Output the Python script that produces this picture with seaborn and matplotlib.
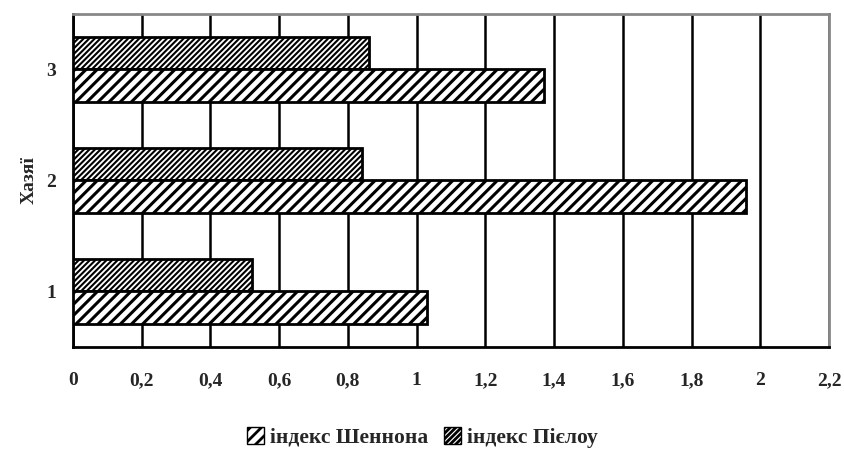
import pandas as pd
import seaborn as sns
import matplotlib.pyplot as plt
from matplotlib.patches import Patch

# Values
hosts = ['3', '2', '1']
shannon = [1.37, 1.96, 1.03]
pielou = [0.86, 0.84, 0.52]
x_ticks = [0, 0.2, 0.4, 0.6, 0.8, 1.0, 1.2, 1.4, 1.6, 1.8, 2.0, 2.2]
x_labels = ['0', '0,2', '0,4', '0,6', '0,8', '1', '1,2', '1,4', '1,6', '1,8', '2', '2,2']
name_sh = 'індекс Шеннона'
name_pi = 'індекс Пієлоу'

df = pd.DataFrame({
    'Хазяї': hosts * 2,
    'value': shannon + pielou,
    'index': [name_sh] * 3 + [name_pi] * 3,
})

sns.set_style('white')
plt.rcParams['font.family'] = ['Liberation Serif', 'DejaVu Serif']
plt.rcParams['font.weight'] = 'bold'
plt.rcParams['hatch.linewidth'] = 2.0

fig = plt.figure(figsize=(8.45, 4.51), dpi=100)
ax = fig.add_axes([0.0864, 0.2306, 0.8946, 0.7384])

sns.barplot(data=df, x='value', y='Хазяї', hue='index', order=hosts,
            hue_order=[name_pi, name_sh], orient='h', width=0.58,
            palette=['white', 'white'], edgecolor='black',
            linewidth=2, legend=False, ax=ax, zorder=3)

# Pielou (top bar) dense hatch, Shannon (bottom bar) sparser thick hatch
styles = {0: ('//////', 1.5), 1: ('///', 2.2)}
for i, cont in enumerate(ax.containers):
    hatch, hlw = styles[i]
    for bar in cont:
        bar.set_hatch(hatch)
        bar.set_facecolor('white')
        bar.set_edgecolor('black')
        if hasattr(bar, 'set_hatch_linewidth'):
            bar.set_hatch_linewidth(hlw)

ax.set_xlim(0, 2.2)
ax.set_ylim(2.5, -0.5)
ax.set_xticks(x_ticks)
ax.set_xticklabels(x_labels, fontsize=14, fontweight='bold')
ax.set_yticks([0, 1, 2])
ax.set_yticklabels(hosts, fontsize=14, fontweight='bold')
ax.set_yticks([-0.5, 0.5, 1.5, 2.5], minor=True)
ax.tick_params(axis='y', which='major', length=0, pad=12)
ax.tick_params(axis='y', which='minor', length=6, width=2, color='black', direction='out')
ax.tick_params(axis='x', which='major', length=6, width=2, color='black', direction='inout', pad=15)

ax.xaxis.grid(True, color='black', linewidth=1.8, zorder=0)
ax.set_axisbelow(True)
ax.set_xlabel('')
ax.set_ylabel('Хазяї', fontsize=14, fontweight='bold', labelpad=6)

for side in ['left', 'bottom']:
    ax.spines[side].set_color('black')
    ax.spines[side].set_linewidth(2)
for side in ['top', 'right']:
    ax.spines[side].set_color('#888888')
    ax.spines[side].set_linewidth(2)

handles = [Patch(facecolor='white', edgecolor='black', hatch='///', label=name_sh),
           Patch(facecolor='white', edgecolor='black', hatch='//////', label=name_pi)]
fig.legend(handles=handles, loc='center', bbox_to_anchor=(0.5, 0.03), ncol=2,
           frameon=False, handlelength=0.8, handleheight=0.8,
           handletextpad=0.3, columnspacing=0.7,
           prop={'weight': 'bold', 'size': 15.5, 'family': 'Liberation Serif'})

fig.savefig('out.png', dpi=100)
